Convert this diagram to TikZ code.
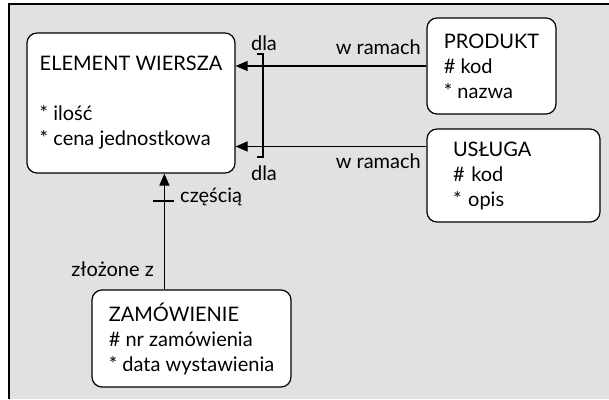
\documentclass[tikz,border=0pt]{standalone}
\usepackage{fontspec}
\setmainfont{Lato}
\usetikzlibrary{arrows.meta}
\definecolor{FrameGray}{RGB}{225, 225, 225}
\tikzset{
    entity/.style={draw, fill=white, line width=1.2pt, rounded corners=10pt,
        align=left, inner sep=0pt, font=\fontsize{20}{25}\selectfont},
    rel/.style={line width=1.2pt, -{Triangle[length=12pt, width=10pt]}},
    lbl/.style={inner sep=0pt, font=\fontsize{20}{25}\selectfont}
}

\begin{document}
\begin{tikzpicture}[x=1pt, y=-1pt]
    \useasboundingbox (0,0) rectangle (609,399);
    % background panel
    \fill[FrameGray] (9,4) rectangle (609,399);
    \draw[line width=1.5pt] (9,399) -- (9,4) -- (609,4);

    % entities
    \node[entity, minimum width=208pt, minimum height=140pt] (elem) at (131,103) {
        ELEMENT WIERSZA\\[25pt]
        {*} ilość\\
        {*} cena jednostkowa
    };
    \node[entity, minimum width=129pt, minimum height=96pt] (prod) at (491.5,66) {
        PRODUKT\\
        \# kod\\
        {*} nazwa
    };
    \node[entity, text width=121pt, inner xsep=26pt, minimum height=93pt] (usl) at (513.5,175.5) {
        USŁUGA\\
        \# kod\\
        {*} opis
    };
    \node[entity, minimum width=199pt, minimum height=97pt] (zam) at (191.5,338.5) {
        ZAMÓWIENIE\\
        \# nr zamówienia\\
        {*} data wystawienia
    };

    % relationships
    \draw[rel] (prod.west) -- (prod.west -| elem.east);
    \draw[rel] ([yshift=29pt]usl.west) -- ([yshift=29pt]usl.west -| elem.east);
    \draw[rel] ([xshift=73pt]zam.north west) -- ([xshift=73pt]zam.north west |- elem.south);

    % exclusive arc and identifying bar
    \coordinate (arcTop) at (263,54);
    \coordinate (arcBot) at (263,157);
    \draw[line width=1.2pt] ([xshift=-6pt]arcTop) -- (arcTop) -- (arcBot) -- ([xshift=-6pt]arcBot);
    \coordinate (bar) at (165,201);
    \draw[line width=1.2pt] ([xshift=-12pt]bar) -- ([xshift=9pt]bar);

    % labels
    \node[lbl] (dlaTop) at (264,43) {dla};
    \node[lbl, anchor=east] (ramTop) at (421,47) {w ramach};
    \node[lbl, anchor=east] (ramBot) at (421,161) {w ramach};
    \node[lbl] (dlaBot) at (264,173) {dla};
    \node[lbl, anchor=west] (czesc) at (180,197) {częścią};
    \node[lbl, anchor=east] (zloz) at (154,269) {złożone z};
\end{tikzpicture}
\end{document}
